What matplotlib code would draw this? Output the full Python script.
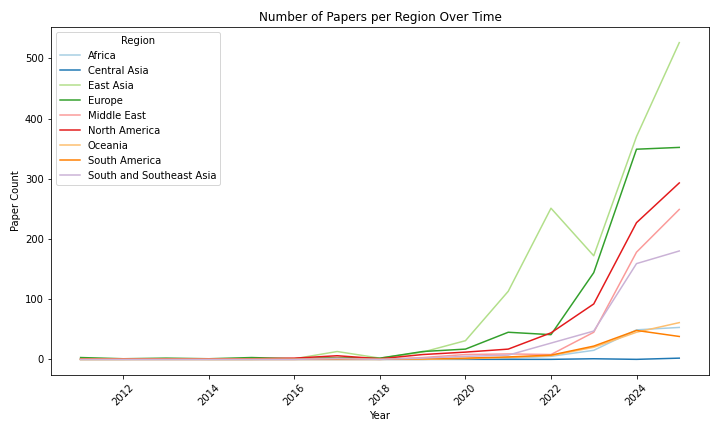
import matplotlib
matplotlib.use("Agg")
import matplotlib.pyplot as plt

years = list(range(2011, 2026))
regions = ["Africa", "Central Asia", "East Asia", "Europe", "Middle East",
           "North America", "Oceania", "South America", "South and Southeast Asia"]

africa = [0, 0, 0, 0, 0, 0, 0, 0, 0, 1, 2, 5, 15, 49, 53]
central_asia = [0, 0, 0, 0, 0, 0, 0, 0, 0, 0, 0, 0, 1, 0, 2]
east_asia = [0, 0, 1, 0, 0, 1, 13, 2, 12, 31, 113, 251, 172, 370, 526]
europe = [3, 1, 2, 1, 3, 1, 3, 2, 13, 17, 45, 41, 144, 349, 352]
middle_east = [0, 0, 0, 0, 0, 0, 2, 0, 3, 8, 9, 8, 45, 178, 249]
north_america = [1, 1, 1, 1, 1, 2, 6, 1, 8, 12, 17, 44, 92, 227, 293]
oceania = [0, 0, 0, 0, 0, 0, 0, 0, 0, 1, 3, 6, 20, 45, 61]
south_america = [0, 0, 0, 0, 0, 0, 0, 0, 1, 2, 4, 7, 22, 48, 38]
se_asia = [0, 0, 0, 0, 0, 0, 1, 0, 2, 5, 7, 27, 47, 159, 180]

series = [africa, central_asia, east_asia, europe, middle_east,
          north_america, oceania, south_america, se_asia]
colors = plt.get_cmap("Paired").colors

fig, ax = plt.subplots(figsize=(10, 6), dpi=72)
for name, vals, c in zip(regions, series, colors):
    ax.plot(years, vals, color=c, label=name, linewidth=1.5)

ax.set_title("Number of Papers per Region Over Time")
ax.set_xlabel("Year")
ax.set_ylabel("Paper Count")
ax.legend(title="Region", loc="upper left")
plt.setp(ax.get_xticklabels(), rotation=45)
fig.tight_layout()
fig.savefig("out.png", dpi=72)
